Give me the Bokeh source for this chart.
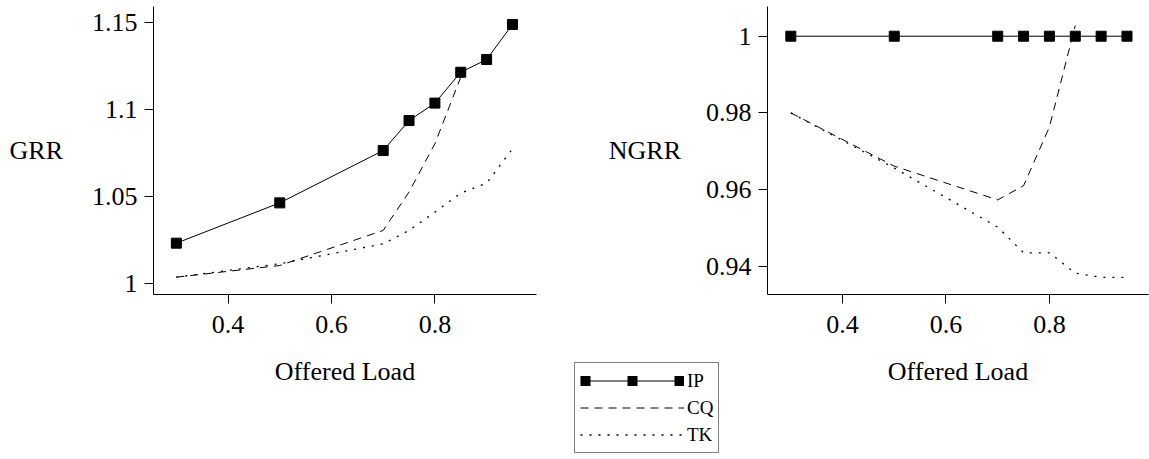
from bokeh.plotting import figure
from bokeh.layouts import row, column
from bokeh.models import Range1d, FixedTicker, Legend, LegendItem
from bokeh.embed import file_html
from bokeh.resources import INLINE

# ---------------- data ----------------
LOAD = [0.3, 0.5, 0.7, 0.75, 0.8, 0.85, 0.9, 0.95]
LOAD_CQ = [0.3, 0.5, 0.7, 0.75, 0.8, 0.85]

GRR_IP = [1.0233, 1.0464, 1.0764, 1.0936, 1.1036, 1.1213, 1.1286, 1.1487]
GRR_CQ = [1.0038, 1.0105, 1.0306, 1.0526, 1.0803, 1.1185]
GRR_TK = [1.0038, 1.0115, 1.0229, 1.0306, 1.0411, 1.0520, 1.0577, 1.0774]

NGRR_IP = [1.0, 1.0, 1.0, 1.0, 1.0, 1.0, 1.0, 1.0]
NGRR_CQ = [0.980, 0.9661, 0.9573, 0.9610, 0.9763, 1.0028]
NGRR_TK = [0.980, 0.9656, 0.9502, 0.9435, 0.9435, 0.9382, 0.9371, 0.9371]

SERIES = ["IP", "CQ", "TK"]

X_TICKS = [0.4, 0.6, 0.8]
X_TICK_LABELS = ["0.4", "0.6", "0.8"]
GRR_TICKS = [1.0, 1.05, 1.1, 1.15]
GRR_TICK_LABELS = ["1", "1.05", "1.1", "1.15"]
NGRR_TICKS = [0.94, 0.96, 0.98, 1.0]
NGRR_TICK_LABELS = ["0.94", "0.96", "0.98", "1"]

FONT = "Liberation Serif"
CQ_DASH = "8 6"
TK_DASH = "2 7"
H = 392


def style(p, xt, xl, yt, yl, xlabel, ylabel, ystand):
    p.outline_line_color = None
    p.xgrid.grid_line_color = None
    p.ygrid.grid_line_color = None
    p.background_fill_color = "white"
    p.border_fill_color = "white"
    p.xaxis.ticker = FixedTicker(ticks=xt)
    p.xaxis.major_label_overrides = dict(zip(xt, xl))
    p.yaxis.ticker = FixedTicker(ticks=yt)
    p.yaxis.major_label_overrides = dict(zip(yt, yl))
    p.xaxis.axis_label = xlabel
    p.yaxis.axis_label = ylabel
    p.yaxis.axis_label_orientation = "horizontal"
    for ax in (p.xaxis, p.yaxis):
        ax.axis_line_color = "black"
        ax.axis_line_width = 1
        ax.major_tick_line_color = "black"
        ax.major_tick_out = 9
        ax.major_tick_in = 0
        ax.minor_tick_line_color = None
        ax.major_label_text_font = FONT
        ax.major_label_text_font_size = "26px"
        ax.major_label_text_color = "black"
        ax.axis_label_text_font = FONT
        ax.axis_label_text_font_size = "26px"
        ax.axis_label_text_font_style = "normal"
        ax.axis_label_text_color = "black"
    p.xaxis.major_label_standoff = 12
    p.xaxis.axis_label_standoff = 21
    p.yaxis.major_label_standoff = 7
    p.yaxis.axis_label_standoff = ystand


# ---------------- left: GRR ----------------
p1 = figure(width=570, height=H,
            x_range=Range1d(0.2558, 0.9965), y_range=Range1d(0.99386, 1.1590),
            output_backend="svg", toolbar_location=None,
            min_border_left=153, min_border_right=34,
            min_border_top=6, min_border_bottom=H - 6 - 288)
style(p1, X_TICKS, X_TICK_LABELS, GRR_TICKS, GRR_TICK_LABELS,
      "Offered Load", "GRR", 26)

p1.line(LOAD_CQ, GRR_CQ, line_color="black", line_width=1, line_dash=CQ_DASH)
p1.line(LOAD, GRR_TK, line_color="black", line_width=1.3, line_dash=TK_DASH)
p1.line(LOAD, GRR_IP, line_color="black", line_width=1)
p1.scatter(LOAD, GRR_IP, marker="square", size=10,
           fill_color="black", line_color="black")

# ---------------- right: NGRR ----------------
p2 = figure(width=579, height=H,
            x_range=Range1d(0.2549, 0.9916), y_range=Range1d(0.93262, 1.00775),
            output_backend="svg", toolbar_location=None,
            min_border_left=197, min_border_right=1,
            min_border_top=6, min_border_bottom=H - 6 - 288)
style(p2, X_TICKS, X_TICK_LABELS, NGRR_TICKS, NGRR_TICK_LABELS,
      "Offered Load", "NGRR", 22)

p2.line(LOAD_CQ, NGRR_CQ, line_color="black", line_width=1, line_dash=CQ_DASH)
p2.line(LOAD, NGRR_TK, line_color="black", line_width=1.3, line_dash=TK_DASH)
p2.line(LOAD, NGRR_IP, line_color="black", line_width=1)
p2.scatter(LOAD, NGRR_IP, marker="square", size=10,
           fill_color="black", line_color="black")

# ---------------- shared legend (own small canvas) ----------------
# The legend canvas shows only the legend: its y range lies below every
# GRR value, so the series lines that feed the legend samples stay hidden.
pl = figure(width=147, height=93, x_range=Range1d(0, 1), y_range=Range1d(-1, 0),
            x_axis_type=None, y_axis_type=None,
            output_backend="svg", toolbar_location=None, min_border=0)
pl.outline_line_color = None
pl.background_fill_color = "white"
pl.border_fill_color = "white"
l_ip = pl.line(LOAD, GRR_IP, line_color="black", line_width=1)
l_ipm = pl.line(LOAD, GRR_IP, line_color="black", line_width=10, line_dash="10 37")
l_cq = pl.line(LOAD_CQ, GRR_CQ, line_color="black", line_width=1, line_dash=CQ_DASH)
l_tk = pl.line(LOAD, GRR_TK, line_color="black", line_width=1.3, line_dash=TK_DASH)

legend = Legend(
    items=[LegendItem(label=SERIES[0], renderers=[l_ip, l_ipm]),
           LegendItem(label=SERIES[1], renderers=[l_cq]),
           LegendItem(label=SERIES[2], renderers=[l_tk])],
    location="top_left",
    orientation="vertical",
    glyph_width=104, glyph_height=25, label_height=25,
    label_width=20, label_standoff=3, spacing=2, padding=5, margin=1,
    label_text_font=FONT, label_text_font_size="19px", label_text_color="black",
    border_line_color="black", border_line_width=1,
    background_fill_color="white", background_fill_alpha=1,
)
pl.add_layout(legend)
pl.margin = (361 - H, 0, 0, 573)

layout = column(row(p1, p2), pl)
open("out.html", "w").write(file_html(layout, INLINE))
